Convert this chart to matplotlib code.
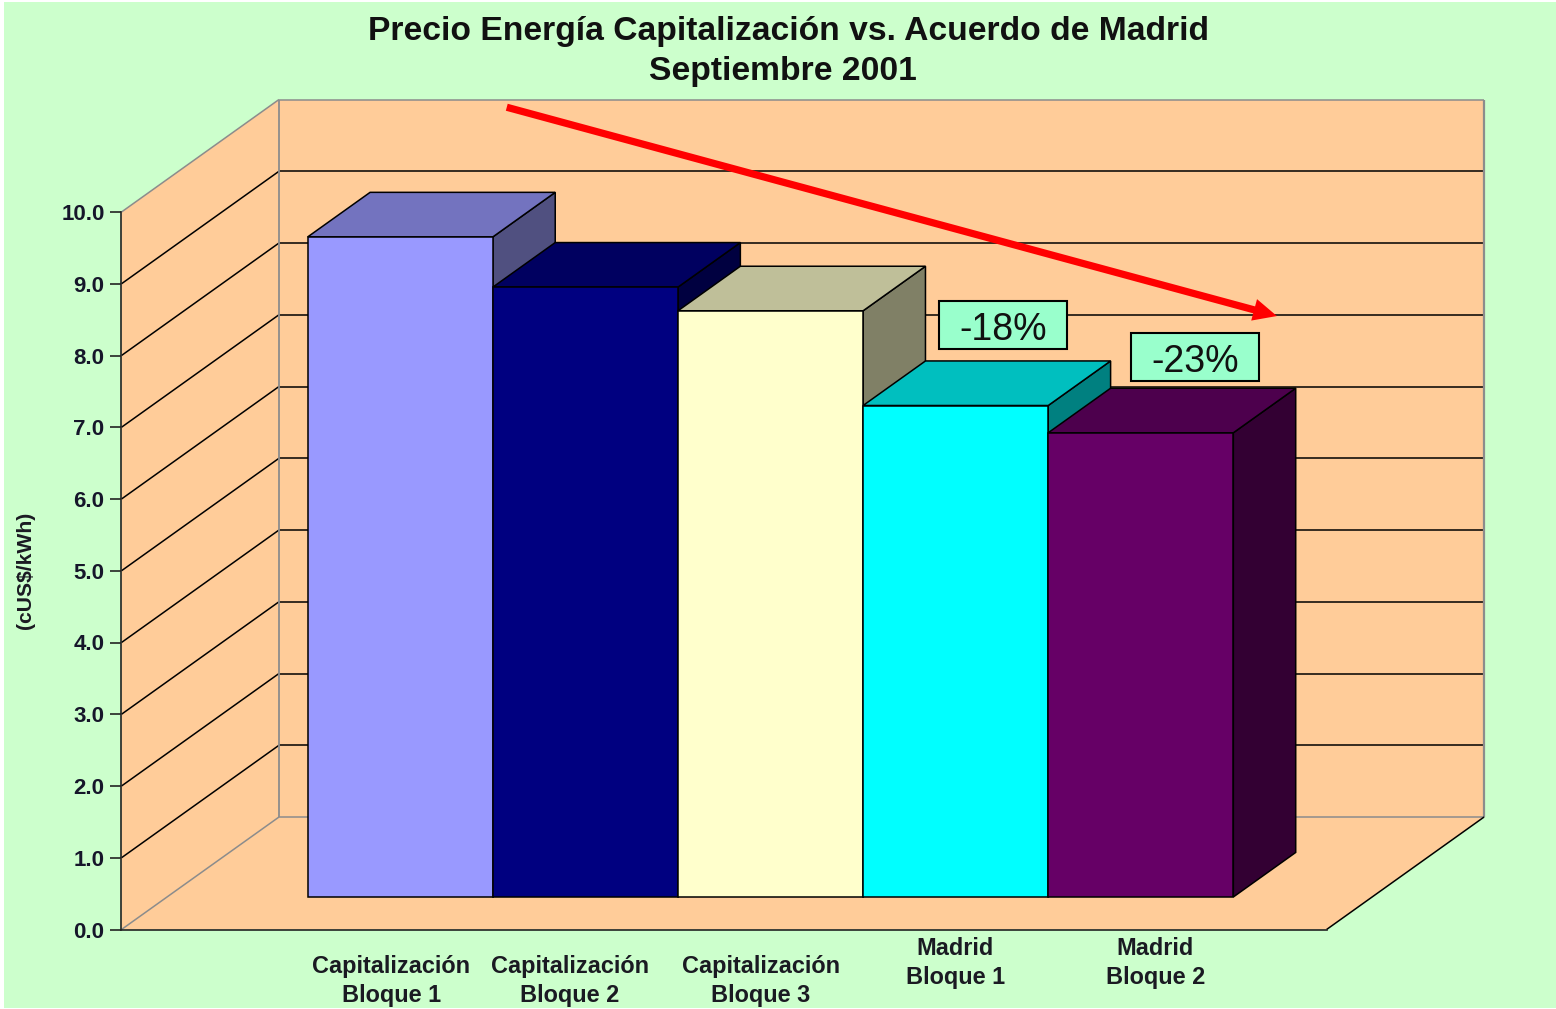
import matplotlib
matplotlib.use("Agg")
import matplotlib.pyplot as plt
from matplotlib.patches import Polygon, Rectangle, FancyArrowPatch

# ---- data ----
title_lines = ["Precio Energía Capitalización vs. Acuerdo de Madrid", "Septiembre 2001"]
y_label = "(cUS$/kWh)"
categories = ["Capitalización\nBloque 1", "Capitalización\nBloque 2", "Capitalización\nBloque 3",
              "Madrid\nBloque 1", "Madrid\nBloque 2"]
values = [9.2, 8.5, 8.17, 6.85, 6.47]
y_ticks = [0, 1, 2, 3, 4, 5, 6, 7, 8, 9, 10]
callouts = ["-18%", "-23%"]
front_colors = ["#9999FF", "#000080", "#FFFFCC", "#00FFFF", "#660066"]
top_colors = ["#7373BF", "#000060", "#BFBF99", "#00BFBF", "#4D004D"]
side_colors = ["#505080", "#000040", "#808066", "#008080", "#330033"]

# ---- layout ----
W, H = 1556, 1009
PX_X = 185.4          # pixels per category
PX_Y = 71.75          # pixels per value unit
X0, Y0 = 121.5, 929.5 # pixel of the origin
DEPTH_X = 157.5 / PX_X
DEPTH_Y = 112.5 / PX_Y
N_CATS = 6.5
BAR_START = 0.759
BAR_STEP = 0.9985
BAR_D0, BAR_D1 = 0.289, 0.685

plt.rcParams["font.family"] = ["Liberation Sans", "DejaVu Sans"]
fig = plt.figure(figsize=(W / 100, H / 100), dpi=100, facecolor="white")
ax = fig.add_axes([0, 0, 1, 1], facecolor="none")
ax.set_xlim(-X0 / PX_X, (W - X0) / PX_X)
ax.set_ylim((Y0 - H) / PX_Y, Y0 / PX_Y)


def pr(x, y, d=0.0):
    """Project (category, value, depth) on the oblique plane of the axes."""
    return (x + d * DEPTH_X, y + d * DEPTH_Y)


# background
ax.add_patch(Rectangle((4 / W, 1 / H), (W - 4) / W, (H - 3) / H, transform=ax.transAxes,
                       fc="#CCFFCC", ec="none", zorder=0))

WALL = "#FFCC99"
GREY = "#8C8C8C"
ymax = y_ticks[-1]
ax.add_patch(Polygon([pr(0, 0), pr(0, ymax), pr(0, ymax, 1), pr(0, 0, 1)], fc=WALL, ec="none", zorder=1))
ax.add_patch(Polygon([pr(0, 0, 1), pr(0, ymax, 1), pr(N_CATS, ymax, 1), pr(N_CATS, 0, 1)], fc=WALL, ec="none", zorder=1))
ax.add_patch(Polygon([pr(0, 0), pr(0, 0, 1), pr(N_CATS, 0, 1), pr(N_CATS, 0)], fc=WALL, ec="none", zorder=1))


def seg(a, b, color="black", lw=1.1, z=2):
    ax.plot([a[0], b[0]], [a[1], b[1]], color=color, lw=lw, zorder=z, solid_capstyle="butt")


for v in y_ticks[1:-1]:
    seg(pr(0, v), pr(0, v, 1))
    seg(pr(0, v, 1), pr(N_CATS, v, 1))
seg(pr(0, ymax), pr(0, ymax, 1), GREY)
seg(pr(0, ymax, 1), pr(N_CATS, ymax, 1), GREY)
seg(pr(0, 0), pr(0, 0, 1), GREY)
seg(pr(0, 0, 1), pr(N_CATS, 0, 1), GREY)
seg(pr(0, 0, 1), pr(0, ymax, 1), GREY, 1.3)
seg(pr(N_CATS, 0, 1), pr(N_CATS, ymax, 1), GREY, 1.6)
seg(pr(N_CATS, 0), pr(N_CATS, 0, 1), "black", 1.1)

# bars, left to right so each one covers the side of the previous
EDGE = dict(ec="black", lw=1.1, joinstyle="miter")
for i, (v, fc, tc, sc) in enumerate(zip(values, front_colors, top_colors, side_colors)):
    x0, x1 = BAR_START + i * BAR_STEP, BAR_START + (i + 1) * BAR_STEP
    z = 3 + i * 0.1
    ax.add_patch(Polygon([pr(x1, 0, BAR_D0), pr(x1, v, BAR_D0), pr(x1, v, BAR_D1), pr(x1, 0, BAR_D1)],
                         fc=sc, zorder=z, **EDGE))
    ax.add_patch(Polygon([pr(x0, v, BAR_D0), pr(x1, v, BAR_D0), pr(x1, v, BAR_D1), pr(x0, v, BAR_D1)],
                         fc=tc, zorder=z, **EDGE))
    ax.add_patch(Polygon([pr(x0, 0, BAR_D0), pr(x1, 0, BAR_D0), pr(x1, v, BAR_D0), pr(x0, v, BAR_D0)],
                         fc=fc, zorder=z, **EDGE))

# axes: real spines and ticks
for s in ("top", "right"):
    ax.spines[s].set_visible(False)
ax.spines["left"].set_position(("data", 0))
ax.spines["left"].set_bounds(0, ymax)
ax.spines["bottom"].set_position(("data", 0))
ax.spines["bottom"].set_bounds(0, N_CATS)
for s in ("left", "bottom"):
    ax.spines[s].set_linewidth(1.2)
    ax.spines[s].set_color("#222222")
    ax.spines[s].set_zorder(5)
ax.set_xticks([])
ax.set_yticks(y_ticks)
ax.set_yticklabels([f"{v:.1f}" for v in y_ticks], fontsize=16, fontweight="bold", color="#16162A")
ax.tick_params(axis="y", length=8, width=1.2, color="#222222", pad=4.2, direction="out")

TXT = "#1A1A22"
# category labels (data x, data y of label centre)
label_x = [1.456, 2.417, 3.447, 4.498, 5.576]
label_y = [-0.72, -0.72, -0.72, -0.47, -0.47]
for name, lx, ly in zip(categories, label_x, label_y):
    ax.text(lx, ly, name, ha="center", va="center", fontsize=16.9, fontweight="bold",
            color=TXT, linespacing=1.33, zorder=6)

ax.text(-0.518, 5.0, y_label, rotation=90, ha="center", va="center", fontsize=15.2,
        fontweight="bold", color=TXT, zorder=6)

title_x = [3.596, 3.567]
title_y = [12.515, 11.965]
for line, tx, ty in zip(title_lines, title_x, title_y):
    ax.text(tx, ty, line, ha="center", va="center", fontsize=24.2, fontweight="bold",
            color="#111111", zorder=6)

# trend arrow
ax.add_patch(FancyArrowPatch((2.078, 11.46), (6.232, 8.55),
                             arrowstyle="simple,tail_width=5.2,head_width=16,head_length=17",
                             mutation_scale=1, fc="#FF0000", ec="none", lw=0, shrinkA=0, shrinkB=0, zorder=7))

# callouts
box_x = [4.755, 5.79]
box_y = [8.425, 7.975]
for t, bx, by in zip(callouts, box_x, box_y):
    ax.add_patch(Rectangle((bx - 0.345, by - 0.335), 0.69, 0.67, fc="#99FFCC", ec="black", lw=1.5, zorder=8))
    ax.text(bx, by - 0.07, t, ha="center", va="center", fontsize=27, color="#111111", zorder=9)

fig.savefig("out.png", dpi=100, facecolor="white")
